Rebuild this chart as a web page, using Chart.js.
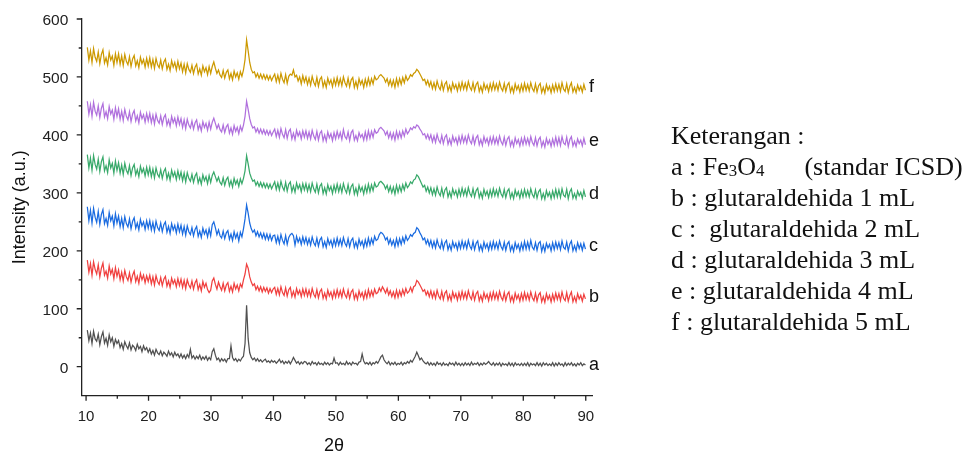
<!DOCTYPE html>
<html>
<head>
<meta charset="utf-8">
<script src="https://cdn.jsdelivr.net/npm/chart.js@4/dist/chart.umd.min.js"></script>
<style>
  body { margin: 0; background: #fff; }
  #wrap { position: relative; width: 970px; height: 455px; }
  #legendNote {
    position: absolute; left: 671px; top: 120px;
    font-family: "Liberation Serif", "Times New Roman", serif;
    font-size: 26px; line-height: 31px; color: #111; white-space: nowrap;
  }
  #legendNote div { height: 31px; }
  #legendNote .sb { font-size: 65%; line-height: 0; vertical-align: -0.05em; }
</style>
</head>
<body>
<div id="wrap">
  <canvas id="xrd"></canvas>
  <div id="legendNote">
    <div>Keterangan :</div>
    <div>a : Fe<span class="sb">3</span>O<span class="sb">4</span><span style="margin-left:40px">(standar ICSD)</span></div>
    <div>b : glutaraldehida 1 mL</div>
    <div>c :&nbsp; glutaraldehida 2 mL</div>
    <div>d : glutaraldehida 3 mL</div>
    <div>e : glutaraldehida 4 mL</div>
    <div>f : glutaraldehida 5 mL</div>
  </div>
</div>
<script>
// 2theta grid: 10.2 .. 89.95 step 0.25
const twoTheta = [];
for (let i = 0; i < 320; i++) twoTheta.push(+(10.2 + i * 0.25).toFixed(2));

const xTicks = [10,15,20,25,30,35,40,45,50,55,60,65,70,75,80,85,90];
const yTicks = [0,50,100,150,200,250,300,350,400,450,500,550,600];
const seriesNames = ['a','b','c','d','e','f'];
const seriesColors = ['#505050','#f0403f','#1a6be0','#38a96a','#b070dd','#cc9900'];

// one row = 5 degrees
const seriesA = [
  63,45,58,40,61,48,44,56,38,52,60,41,49,37,55,43,50,35,47,40,
  45,33,40,30,43,36,31,41,29,37,34,28,39,31,35,26,36,29,33,25,
  31,22,28,20,30,24,21,27,19,25,22,18,27,20,24,17,25,19,22,16,
  22,15,20,14,21,16,30,15,19,13,18,14,20,12,17,13,18,11,16,12,
  26,31,20,12,15,9,14,10,13,8,14,14,36,16,11,14,9,13,10,15,
  18,40,106,48,24,16,12,15,10,14,9,12,8,11,13,8,10,7,11,8,
  10,6,9,13,7,10,5,9,6,10,5,10,16,11,6,9,4,8,5,9,
  8,4,7,3,9,5,7,3,8,4,6,3,8,4,7,3,6,5,15,6,
  7,3,8,4,6,3,9,4,7,3,8,5,6,3,8,9,22,10,5,7,
  4,8,3,7,5,9,6,11,17,20,12,8,5,9,3,7,4,8,3,6,
  4,8,3,7,5,9,6,11,8,13,18,25,19,12,15,10,7,5,8,3,
  7,3,6,2,8,4,6,2,7,3,5,2,7,4,6,2,8,3,6,2,
  6,2,7,3,6,2,8,3,6,4,7,2,6,3,7,4,6,9,5,3,
  7,2,6,3,7,1,6,3,5,2,7,2,6,1,7,3,5,2,6,2,
  6,2,7,1,6,3,5,2,7,2,6,1,7,3,6,2,5,2,7,1,
  6,2,7,3,5,1,7,2,6,3,7,2,5,1,6,3,7,2,5,3
];
const seriesB = [
  184,163,178,158,181,168,160,176,155,170,179,158,165,153,174,160,168,152,171,156,
  167,150,163,148,166,155,149,162,146,158,165,147,156,144,161,150,158,145,157,147,
  158,143,155,141,157,147,142,154,140,151,156,139,148,137,153,143,150,138,152,140,
  151,137,149,135,150,141,136,148,134,145,150,133,142,131,147,137,144,133,128,132,
  148,153,142,134,146,138,132,144,131,141,145,130,139,129,144,134,141,131,143,137,
  150,160,177,170,155,146,140,143,133,139,131,138,129,137,130,136,127,135,128,134,
  137,125,135,124,138,128,123,136,122,133,137,121,130,120,135,125,132,121,134,123,
  134,122,132,121,135,125,120,133,119,130,134,118,127,117,132,122,129,118,131,120,
  133,121,131,120,134,124,119,132,118,129,133,117,126,116,131,121,128,117,130,119,
  133,121,131,122,134,126,128,136,130,138,133,127,135,124,131,121,129,119,132,120,
  131,122,133,124,135,127,130,137,129,138,140,149,146,141,136,130,133,124,130,121,
  131,119,129,118,132,122,117,130,116,127,131,115,124,114,129,119,126,115,128,117,
  130,118,128,117,131,121,116,129,115,126,130,114,123,113,128,118,125,114,127,116,
  129,117,127,116,130,120,115,128,114,125,129,113,122,112,127,117,124,113,126,115,
  128,116,126,115,129,119,114,127,113,124,128,112,121,111,126,116,123,112,125,114,
  127,116,126,114,129,118,114,128,113,123,129,112,121,112,126,117,123,113,125,117
];
const seriesC = [
  276,252,270,248,273,258,249,268,246,263,271,247,256,244,266,252,260,243,264,248,
  260,242,256,240,259,247,241,255,238,251,257,239,248,236,254,243,250,237,252,239,
  252,236,249,234,251,240,235,248,233,245,250,232,242,230,247,236,244,231,246,233,
  244,229,242,227,243,233,228,240,226,237,242,225,234,223,239,229,236,224,238,226,
  245,250,240,228,236,226,222,234,221,231,235,220,229,218,233,222,230,217,232,224,
  238,255,279,265,248,238,232,236,226,233,224,231,222,230,220,229,219,228,218,226,
  227,214,225,213,228,218,212,226,211,223,228,230,226,210,225,215,222,211,224,213,
  223,211,221,210,224,214,209,222,208,219,223,207,216,206,221,211,218,207,220,209,
  222,210,220,209,223,213,208,221,207,218,222,206,215,205,220,210,217,206,219,208,
  222,210,221,212,225,218,220,228,232,230,226,219,223,212,220,210,218,207,221,209,
  221,211,223,214,226,218,222,228,225,230,232,240,237,231,226,219,222,212,219,209,
  218,206,216,205,219,209,204,217,203,214,218,202,211,201,216,206,213,202,215,204,
  217,205,215,204,218,208,203,216,202,213,217,201,210,200,215,205,212,201,214,203,
  216,204,214,203,217,207,202,215,201,212,216,200,209,199,214,204,211,200,213,202,
  216,203,215,203,218,206,202,214,201,213,216,199,210,199,213,205,211,200,214,202,
  215,204,214,202,217,206,203,215,200,212,217,200,209,200,214,204,212,201,213,203
];
const seriesD = [
  366,343,360,339,364,349,341,358,337,354,362,338,347,335,357,343,351,334,355,339,
  352,334,348,332,351,339,333,347,330,343,349,331,340,328,346,335,342,329,344,331,
  344,328,341,326,343,332,327,340,325,337,342,324,334,322,339,328,336,323,338,325,
  336,321,334,319,335,325,320,332,318,329,334,317,326,315,331,321,328,316,330,318,
  330,336,328,320,327,318,314,326,313,323,327,312,321,310,325,315,322,311,324,316,
  325,338,364,350,334,326,320,322,313,319,311,318,310,317,309,316,308,315,307,313,
  319,306,317,305,320,310,304,318,303,315,319,302,312,301,317,307,314,302,316,305,
  316,303,314,302,317,307,301,315,300,312,316,299,309,298,314,304,311,299,313,302,
  315,302,313,301,316,306,300,314,299,311,315,298,308,297,313,303,310,298,312,301,
  315,302,314,304,317,310,312,318,320,317,314,307,313,302,311,300,310,298,313,301,
  312,302,314,305,317,309,313,319,316,322,324,331,328,322,316,310,313,303,310,300,
  309,297,307,296,310,300,295,308,294,305,309,293,302,292,307,297,304,293,306,295,
  308,296,306,295,309,299,294,307,293,304,308,292,301,291,306,296,303,292,305,294,
  307,295,305,294,308,298,293,306,292,303,307,291,300,290,305,295,302,291,304,293,
  306,294,304,293,307,297,292,305,291,302,306,290,299,289,304,294,301,290,303,292,
  306,293,305,292,307,296,293,306,290,302,307,291,299,290,303,295,301,291,304,293
];
const seriesE = [
  458,436,452,432,456,441,434,450,430,446,454,431,440,428,449,436,443,427,447,432,
  445,427,441,425,444,432,426,440,423,436,442,424,433,421,439,428,435,422,437,424,
  437,421,434,419,436,425,420,433,418,430,435,417,426,415,432,421,429,416,431,418,
  428,413,426,411,427,417,412,424,410,421,426,409,418,407,423,413,420,408,422,410,
  422,429,420,411,418,409,405,417,404,414,418,403,412,401,416,406,413,402,415,407,
  417,432,458,444,428,418,412,414,405,411,403,410,402,409,401,408,400,407,399,405,
  410,397,408,396,411,401,395,409,394,406,410,393,403,392,408,398,405,393,407,396,
  407,394,405,393,408,398,392,406,391,403,407,390,400,389,405,395,402,390,404,393,
  406,395,404,392,409,397,393,405,390,404,408,391,399,390,404,396,401,391,405,392,
  407,394,406,396,409,403,405,411,413,410,407,400,406,395,404,393,403,391,406,394,
  405,395,407,398,410,402,406,412,409,414,412,417,415,410,406,400,402,394,401,392,
  400,388,398,387,401,391,386,399,385,396,400,384,393,383,398,388,395,384,397,386,
  399,387,397,386,400,390,385,398,384,395,399,383,392,382,397,387,394,383,396,385,
  397,385,395,384,398,388,383,396,382,393,397,381,390,380,395,385,392,381,394,383,
  396,384,394,383,397,387,382,395,381,392,396,380,389,379,394,384,391,380,393,382,
  396,383,395,382,397,386,383,396,380,392,397,381,389,380,393,385,391,381,394,383
];
const seriesF = [
  551,529,545,525,549,534,527,543,523,539,547,524,533,521,542,529,536,520,540,525,
  540,522,536,520,539,527,521,535,518,531,537,519,528,516,534,523,530,517,532,519,
  533,517,530,515,532,521,516,529,514,526,531,513,522,511,528,517,525,512,527,514,
  524,509,522,507,523,513,508,520,506,517,522,505,514,503,519,509,516,504,518,506,
  518,526,515,506,512,503,499,511,498,508,512,497,506,495,510,500,507,496,509,501,
  512,530,564,545,525,513,507,509,500,506,498,505,497,504,496,503,495,502,494,500,
  505,492,503,491,506,496,490,504,489,501,505,503,512,500,503,493,500,488,502,491,
  500,487,498,486,501,491,485,499,484,496,500,483,493,482,498,488,495,483,497,486,
  499,486,497,485,500,490,484,498,483,495,499,482,492,481,497,487,494,482,496,485,
  498,486,497,488,501,495,497,502,504,501,498,491,497,486,495,484,494,482,497,485,
  497,487,499,490,502,494,498,504,501,506,508,513,510,505,500,494,496,487,494,484,
  492,480,490,479,493,483,478,491,477,488,492,476,485,475,490,480,487,476,489,478,
  491,479,489,478,492,482,477,490,476,487,491,475,484,474,489,479,486,475,488,477,
  490,478,488,477,491,481,476,489,475,486,490,474,483,473,488,478,485,474,487,476,
  489,477,487,476,490,480,475,488,474,485,489,473,482,472,487,477,484,473,486,475,
  488,476,487,475,490,479,475,488,473,484,490,474,482,473,486,477,484,474,487,477
];
const allSeries = [seriesA, seriesB, seriesC, seriesD, seriesE, seriesF];

const axisDecor = {
  id: 'axisDecor',
  afterDraw(chart) {
    const ctx = chart.ctx;
    const xs = chart.scales.x, ys = chart.scales.y;
    const area = chart.chartArea;
    ctx.save();
    ctx.strokeStyle = '#222';
    ctx.lineWidth = 1.3;
    ctx.beginPath();
    xTicks.forEach(v => {
      const px = xs.getPixelForValue(v);
      const len = v % 10 === 0 ? 5 : 3;
      ctx.moveTo(px, area.bottom);
      ctx.lineTo(px, area.bottom + len);
    });
    yTicks.forEach(v => {
      const py = ys.getPixelForValue(v);
      const len = v % 100 === 0 ? 5 : 3;
      ctx.moveTo(area.left, py);
      ctx.lineTo(area.left - len, py);
    });
    ctx.stroke();

    // series letters at the right end, next to the tail of each trace
    ctx.fillStyle = '#111';
    ctx.font = '18px Arial, "Liberation Sans"';
    ctx.textBaseline = 'middle';
    ctx.textAlign = 'left';
    allSeries.forEach((s, i) => {
      const tail = s.slice(-10);
      const avg = tail.reduce((a, b) => a + b, 0) / tail.length;
      const top = Math.max(...tail);
      ctx.fillText(seriesNames[i], 589, ys.getPixelForValue((avg + top) / 2) + 2);
    });

    // axis titles
    ctx.textAlign = 'center';
    ctx.font = '18px Arial, "Liberation Sans"';
    ctx.fillText('2\u03b8', 334, 446);
    ctx.translate(20, (area.top + area.bottom) / 2);
    ctx.rotate(-Math.PI / 2);
    ctx.fillText('Intensity (a.u.)', 0, 0);
    ctx.restore();
  }
};

const datasets = allSeries.map((s, i) => ({
  label: seriesNames[i],
  data: s.map((v, k) => ({ x: twoTheta[k], y: v })),
  borderColor: seriesColors[i],
  borderWidth: 1.25,
  pointRadius: 0,
  tension: 0,
  fill: false
}));

new Chart(document.getElementById('xrd').getContext('2d'), {
  type: 'line',
  data: { datasets: datasets },
  options: {
    responsive: true,
    maintainAspectRatio: false,
    animation: false,
    layout: { padding: { left: 0, right: 378, top: 19, bottom: 0 } },
    plugins: { legend: { display: false }, tooltip: { enabled: false } },
    scales: {
      x: {
        type: 'linear',
        min: 9.3,
        max: 91,
        afterBuildTicks: s => { s.ticks = xTicks.map(v => ({ value: v })); },
        afterFit: s => { s.height = 59.3; },
        grid: { display: false },
        border: { display: true, color: '#222', width: 1.3 },
        ticks: {
          padding: 4,
          color: '#222',
          font: { family: 'Arial, "Liberation Sans"', size: 15 },
          maxRotation: 0,
          autoSkip: false,
          callback: v => (v % 10 === 0 ? v : '')
        }
      },
      y: {
        min: -50,
        max: 600,
        afterBuildTicks: s => { s.ticks = yTicks.map(v => ({ value: v })); },
        afterFit: s => { s.width = 81.7; },
        grid: { display: false },
        border: { display: true, color: '#222', width: 1.3 },
        ticks: {
          padding: 5.4,
          labelOffset: 1.5,
          color: '#222',
          font: { family: 'Arial, "Liberation Sans"', size: 15.5 },
          autoSkip: false,
          callback: v => (v % 100 === 0 ? v : '')
        }
      }
    }
  },
  plugins: [axisDecor]
});
</script>
</body>
</html>
